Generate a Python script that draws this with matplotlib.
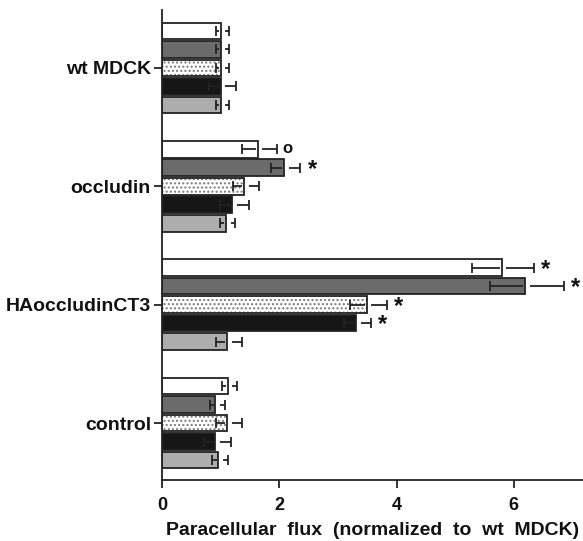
import matplotlib
matplotlib.use("Agg")
import matplotlib.pyplot as plt
import numpy as np

plt.rcParams['font.family'] = ['Liberation Sans', 'DejaVu Sans']
plt.rcParams['font.weight'] = 'bold'

groups = ["wt MDCK", "occludin", "HAoccludinCT3", "control"]
# five bars per group, top to bottom: white, dark gray, dotted, black, light gray
values = [
    [1.00, 1.00, 1.00, 1.00, 1.00],
    [1.63, 2.08, 1.40, 1.20, 1.09],
    [5.79, 6.19, 3.49, 3.31, 1.11],
    [1.12, 0.91, 1.11, 0.91, 0.96],
]
errors = [
    [0.08, 0.08, 0.08, 0.20, 0.08],
    [0.27, 0.22, 0.19, 0.22, 0.10],
    [0.50, 0.60, 0.29, 0.20, 0.19],
    [0.10, 0.10, 0.19, 0.20, 0.10],
]
marks = [
    ["", "", "", "", ""],
    ["o", "*", "", "", ""],
    ["*", "*", "*", "*", ""],
    ["", "", "", "", ""],
]
fills = ["white", "#6b6b6b", "dots", "#161616", "#adadad"]

fig = plt.figure(figsize=(5.83, 5.41), dpi=100)
ax = fig.add_axes([0.278, 0.113, 0.722, 0.869])

group_step = 6.4
for g, name in enumerate(groups):
    for j in range(5):
        y = g * group_step + (j - 2)
        v = values[g][j]
        e = errors[g][j]
        if fills[j] == "dots":
            ax.barh(y, v, height=0.9, color="white", edgecolor="#7a7a7a",
                    hatch="....", linewidth=0)
            ax.barh(y, v, height=0.9, color="none", edgecolor="#222222",
                    linewidth=1.3)
        else:
            ax.barh(y, v, height=0.9, color=fills[j], edgecolor="#222222",
                    linewidth=1.3)
        # error bar drawn in two pieces with a gap at the bar end
        ax.hlines(y, v - e, v - 0.03, color="#222222", lw=1.3)
        ax.plot([v - e], [y], marker="|", ms=7, mew=1.3, color="#222222")
        ax.hlines(y, v + 0.08, v + e + 0.06, color="#222222", lw=1.3)
        ax.plot([v + e + 0.06], [y], marker="|", ms=7, mew=1.3, color="#222222")
        m = marks[g][j]
        if m == "*":
            ax.text(v + e + 0.18, y + 0.1, "*", fontsize=17, fontweight="bold",
                    va="center", ha="left", color="#111111")
        elif m == "o":
            ax.text(v + e + 0.16, y - 0.05, "o", fontsize=12, fontweight="bold",
                    va="center", ha="left", color="#111111")

ax.set_xlim(0, 7.18)
ax.set_ylim(22.27, -3.14)
ax.set_xticks([0, 2, 4, 6])
ax.set_xticklabels(["0", "2", "4", "6"], fontsize=13, fontweight="bold")
ax.set_yticks([g * group_step for g in range(len(groups))])
ax.set_yticklabels(groups, fontsize=14, fontweight="bold")
ax.tick_params(axis="both", direction="out", length=6, width=1.3, colors="#222222",
               labelcolor="#111111")
ax.tick_params(axis="y", pad=2)
ax.tick_params(axis="x", pad=6)
for side in ["top", "right"]:
    ax.spines[side].set_visible(False)
for side in ["left", "bottom"]:
    ax.spines[side].set_linewidth(1.3)
    ax.spines[side].set_color("#222222")

ax.set_xlabel("Paracellular  flux  (normalized  to  wt  MDCK)", fontsize=14,
              fontweight="bold", color="#111111", labelpad=6, x=0.5)

fig.savefig("out.png", dpi=100)
